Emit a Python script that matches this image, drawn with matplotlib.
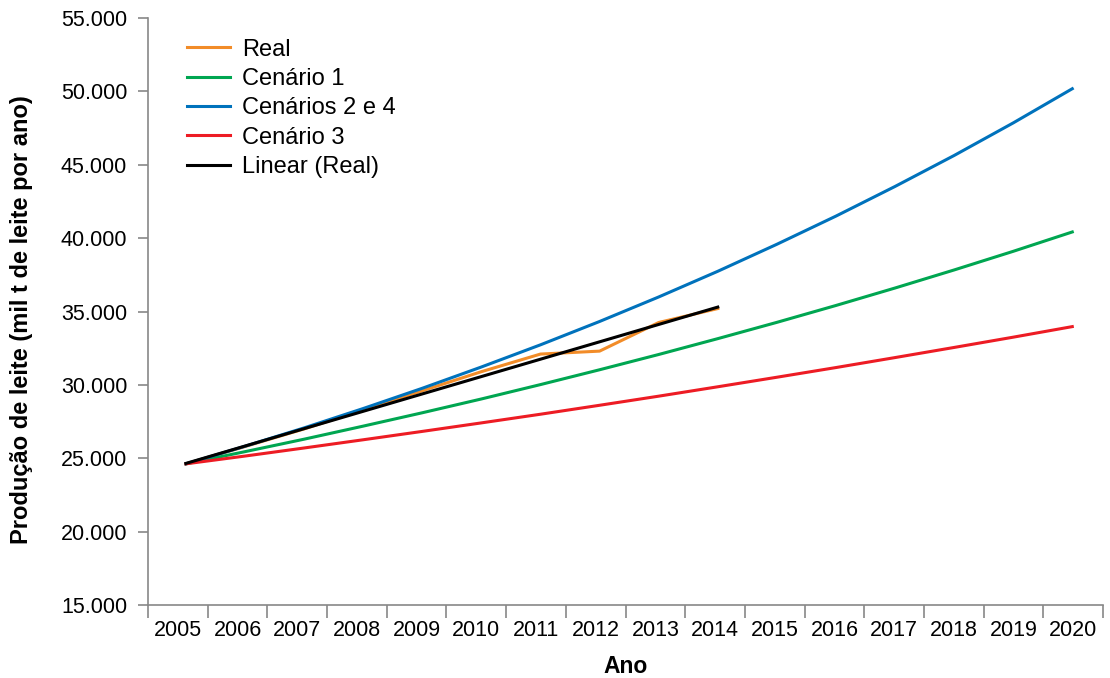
import numpy as np
import matplotlib
matplotlib.use("Agg")
import matplotlib.pyplot as plt
from matplotlib.ticker import FuncFormatter, FixedLocator

plt.rcParams['font.family'] = ['Liberation Sans', 'DejaVu Sans']

years = [str(y) for y in range(2005, 2021)]

# leite, mil t por ano
real = [24620, 25800, 27000, 28300, 29600, 30900, 32100, 32300, 34250, 35200]
cenario1 = [24620, 25450, 26300, 27190, 28100, 29040, 30020, 31030, 32070, 33150,
            34260, 35410, 36600, 37830, 39100, 40420]
cenarios24 = [24620, 25820, 27070, 28390, 29770, 31220, 32730, 34320, 35990, 37740,
              39580, 41500, 43520, 45630, 47850, 50180]
cenario3 = [24620, 25150, 25700, 26260, 26830, 27410, 28000, 28610, 29230, 29870,
            30520, 31180, 31860, 32550, 33250, 33970]
linear_real = [24650, 35300]  # trend line ends (2005, 2014)

fig = plt.figure(figsize=(11.1, 6.78), dpi=100)
ax = fig.add_axes([148 / 1110, 1 - 605 / 678, 955 / 1110, 587 / 678])

lw = 2.2
ax.plot(range(len(real)), real, color='#F28C28', lw=lw, label='Real')
ax.plot(range(len(cenario1)), cenario1, color='#00A651', lw=lw, label='Cenário 1')
ax.plot(range(len(cenarios24)), cenarios24, color='#0072BC', lw=lw, label='Cenários 2 e 4')
ax.plot(range(len(cenario3)), cenario3, color='#ED1C24', lw=lw, label='Cenário 3')
ax.plot([0, len(real) - 1], linear_real, color='black', lw=lw, label='Linear (Real)')

x0, x1 = -0.643, 15.52
ax.set_xlim(x0, x1)
ax.set_ylim(15000, 55000)

# category axis: ticks on boundaries, labels in the middle
bounds = np.linspace(x0, x1, len(years) + 1)
ax.xaxis.set_major_locator(FixedLocator(bounds))
ax.set_xticklabels([])
ax.xaxis.set_minor_locator(FixedLocator((bounds[:-1] + bounds[1:]) / 2))
ax.set_xticklabels(years, minor=True)
ax.tick_params(axis='x', which='major', length=9, width=1.2, color='#888888', direction='out')
ax.tick_params(axis='x', which='minor', length=0, pad=11, labelsize=15.5)

ax.yaxis.set_major_locator(FixedLocator(range(15000, 55001, 5000)))
ax.yaxis.set_major_formatter(FuncFormatter(lambda v, p: f"{int(v):,}".replace(',', '.')))
ax.tick_params(axis='y', length=7, width=1.2, color='#888888', labelsize=15.5, pad=8)

for s in ['top', 'right']:
    ax.spines[s].set_visible(False)
for s in ['left', 'bottom']:
    ax.spines[s].set_color('#888888')
    ax.spines[s].set_linewidth(1.2)

ax.set_ylabel('Produção de leite (mil t de leite por ano)', fontsize=17, fontweight='bold')
ax.yaxis.set_label_coords(-0.12, 0.486)
ax.set_xlabel('Ano', fontsize=16.5, fontweight='bold')
ax.xaxis.set_label_coords(0.5, -0.085)

ax.legend(loc='upper left', bbox_to_anchor=(0.041, 0.965), frameon=False, fontsize=17,
          handlelength=1.82, handletextpad=0.5, labelspacing=0.31,
          borderaxespad=0, borderpad=0)

fig.savefig('out.png', dpi=100)
